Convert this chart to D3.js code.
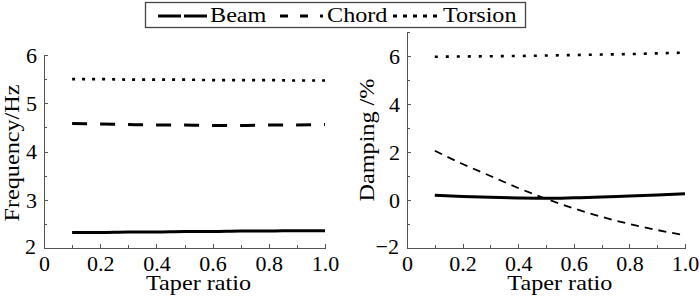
<!DOCTYPE html>
<html>
<head>
  <meta charset="utf-8">
  <title>taper-ratio</title>
  <style>
    body { margin: 0; background: #fff; }
  </style>
  <script src="https://d3js.org/d3.v7.min.js"></script>
</head>
<body>
<script type="text/javascript">

  // data
  var taper = [0.1, 0.2, 0.3, 0.4, 0.5, 0.6, 0.7, 0.8, 0.9, 1.0];
  var freqBeam    = [2.32, 2.32, 2.33, 2.33, 2.34, 2.34, 2.35, 2.35, 2.36, 2.36];
  var freqChord   = [4.58, 4.57, 4.56, 4.55, 4.55, 4.54, 4.54, 4.55, 4.55, 4.56];
  var freqTorsion = [5.50, 5.50, 5.49, 5.49, 5.49, 5.48, 5.48, 5.48, 5.47, 5.47];
  var dampBeam    = [0.20, 0.15, 0.11, 0.08, 0.07, 0.09, 0.12, 0.17, 0.21, 0.26];
  var dampChord   = [2.05, 1.50, 1.00, 0.50, 0.05, -0.35, -0.70, -1.00, -1.25, -1.47];
  var dampTorsion = [5.97, 5.98, 5.99, 6.00, 6.02, 6.04, 6.06, 6.08, 6.11, 6.14];
  var seriesNames = ["Beam", "Chord", "Torsion"];
  var xTicks = [0, 0.1, 0.2, 0.3, 0.4, 0.5, 0.6, 0.7, 0.8, 0.9, 1.0];
  var freqTicks = [2, 2.5, 3, 3.5, 4, 4.5, 5, 5.5, 6];
  var dampTicks = [-2, -1, 0, 1, 2, 3, 4, 5, 6, 7];

  var FONT = "Liberation Serif";
  var FS = 22;
  var SX = 1.1; // titles/legend in the figure are a little wider than Times
  var AXIS = "#555";

  var svg = d3.select("body").append("svg")
    .attr("width", 700)
    .attr("height", 297)
    .attr("font-family", FONT);

  svg.append("rect").attr("width", 700).attr("height", 297).attr("fill", "#fff");

  function panel(opt) {
    var x = d3.scaleLinear().domain([0, 1]).range(opt.xr);
    var y = d3.scaleLinear().domain(opt.yd).range(opt.yr);
    var g = svg.append("g");

    // x axis, ticks pointing inward (up)
    var gx = g.append("g")
      .attr("transform", "translate(0," + opt.yr[0] + ")")
      .call(d3.axisBottom(x).tickValues(xTicks).tickSizeInner(-3).tickSizeOuter(0)
        .tickFormat(function(d) {
          var k = Math.round(d * 10);
          if (k % 2) return "";
          return k === 0 ? "0" : d.toFixed(1);
        }));
    gx.selectAll(".tick text").attr("y", 23).attr("dy", null);
    gx.selectAll(".tick line").attr("y2", function(d) { return Math.round(d * 10) % 2 ? -3 : -4; });

    // y axis, ticks pointing inward (right)
    var gy = g.append("g")
      .attr("transform", "translate(" + opt.xr[0] + ",0)")
      .call(d3.axisLeft(y).tickValues(opt.ticks).tickSizeInner(-4).tickSizeOuter(0)
        .tickFormat(function(d) { return opt.major(d) ? d3.format("d")(d) : ""; }));
    gy.selectAll(".tick text").attr("x", -7).attr("dy", "0.34em");
    gy.selectAll(".tick line").attr("x2", function(d) { return opt.major(d) ? 4 : 3; });
    gy.selectAll(".tick text").filter(function(d) { return d === opt.yd[0]; })
      .attr("x", -8).attr("dy", "0.25em");

    [gx, gy].forEach(function(a) {
      a.attr("font-family", FONT).attr("font-size", FS);
      a.selectAll("path, line").attr("stroke", AXIS).attr("shape-rendering", "crispEdges");
      a.selectAll("text").attr("fill", "#000");
    });

    // axis titles
    g.append("text")
      .attr("class", "title")
      .attr("transform", "translate(" + x(0.55) + ",290) scale(" + SX + ",1)")
      .attr("text-anchor", "middle")
      .text("Taper ratio");

    g.append("text")
      .attr("class", "title")
      .attr("transform", "translate(" + opt.titleX + "," + opt.titleY + ") rotate(-90) scale(" + SX + ",1)")
      .attr("text-anchor", "middle")
      .text(opt.title);

    var line = d3.line()
      .x(function(d, i) { return x(taper[i]); })
      .y(function(d) { return y(d); })
      .curve(d3.curveMonotoneX);

    opt.series.forEach(function(s) {
      g.append("path")
        .datum(s.values)
        .attr("fill", "none")
        .attr("stroke", "#000")
        .attr("d", line)
        .attr("stroke-width", s.width)
        .attr("stroke-dasharray", s.dash);
    });
  }

  panel({
    xr: [44, 325], yd: [2, 6], yr: [248, 55], ticks: freqTicks,
    major: function(d) { return d % 1 === 0; },
    title: "Frequency/Hz", titleX: 19, titleY: 153,
    series: [
      {values: freqBeam, width: 3, dash: null},
      {values: freqChord, width: 3, dash: "15,13"},
      {values: freqTorsion, width: 2.6, dash: "3,7"}
    ]
  });

  panel({
    xr: [407, 685], yd: [-2, 7], yr: [248, 32], ticks: dampTicks,
    major: function(d) { return d % 2 === 0; },
    title: "Damping /%", titleX: 374, titleY: 140,
    series: [
      {values: dampBeam, width: 3, dash: null},
      {values: dampChord, width: 1.8, dash: "8,6"},
      {values: dampTorsion, width: 2.6, dash: "3,8"}
    ]
  });

  // legend
  var leg = svg.append("g");
  leg.append("rect")
    .attr("x", 145.5).attr("y", 2.5)
    .attr("width", 380).attr("height", 25)
    .attr("fill", "#fff").attr("stroke", "#444").attr("stroke-width", 1.3);

  var legItems = [
    {name: seriesNames[0], x1: 158, x2: 208, tx: 210, width: 3.2, dash: "23,3"},
    {name: seriesNames[1], x1: 280, x2: 323, tx: 327, width: 3.2, dash: "8,12"},
    {name: seriesNames[2], x1: 393, x2: 442, tx: 443, width: 3, dash: "4,6"}
  ];
  legItems.forEach(function(it) {
    leg.append("line")
      .attr("x1", it.x1).attr("x2", it.x2)
      .attr("y1", 16).attr("y2", 16)
      .attr("stroke", "#000")
      .attr("stroke-width", it.width)
      .attr("stroke-dasharray", it.dash);
    leg.append("text")
      .attr("class", "title")
      .attr("transform", "translate(" + it.tx + ",22) scale(" + SX + ",1)")
      .text(it.name);
  });

  svg.selectAll("text.title")
    .attr("font-family", FONT)
    .attr("font-size", FS)
    .attr("fill", "#000");

</script>
</body>
</html>
